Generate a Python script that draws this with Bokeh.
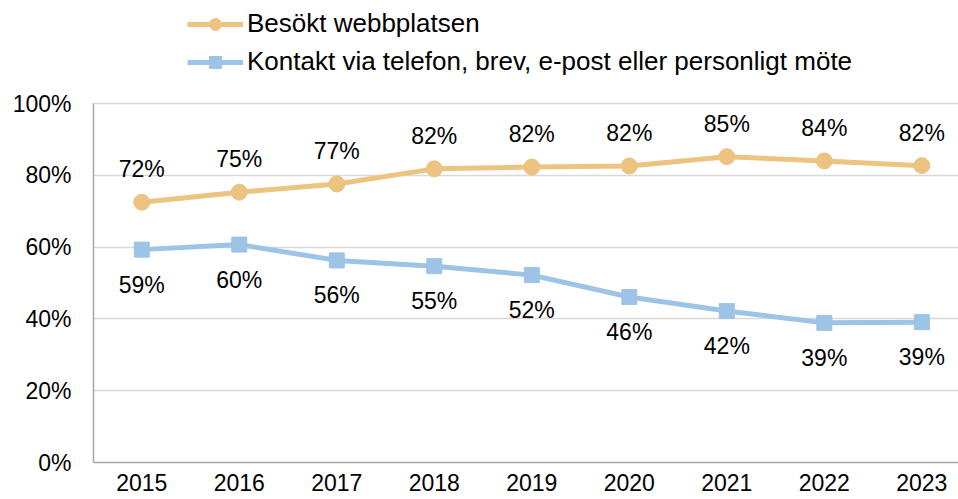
from bokeh.plotting import figure
from bokeh.models import ColumnDataSource, Legend, LegendItem, FixedTicker, PrintfTickFormatter, Range1d
from bokeh.core.properties import value
from bokeh.embed import file_html
from bokeh.resources import INLINE

years = [2015, 2016, 2017, 2018, 2019, 2020, 2021, 2022, 2023]
webb = [72.5, 75.3, 77.6, 81.8, 82.3, 82.6, 85.2, 84.0, 82.7]
webb_labels = ["72%", "75%", "77%", "82%", "82%", "82%", "85%", "84%", "82%"]
kontakt = [59.3, 60.7, 56.3, 54.7, 52.2, 46.1, 42.2, 38.9, 39.1]
kontakt_labels = ["59%", "60%", "56%", "55%", "52%", "46%", "42%", "39%", "39%"]
y_ticks = [0, 20, 40, 60, 80, 100]
series_names = ["Besökt webbplatsen", "Kontakt via telefon, brev, e-post eller personligt möte"]

ORANGE = "#EDC381"
BLUE = "#9DC3E6"
FONT = "Liberation Sans"

p = figure(width=958, height=499, output_backend="svg", toolbar_location=None,
           x_range=Range1d(2014.505, 2023.376), y_range=Range1d(0, 128.7),
           min_border_left=93, min_border_right=0, min_border_top=0, min_border_bottom=37)
p.outline_line_color = None
p.background_fill_color = "white"
p.border_fill_color = "white"

s1 = ColumnDataSource(dict(x=years, y=webb, lab=webb_labels))
s2 = ColumnDataSource(dict(x=years, y=kontakt, lab=kontakt_labels))

l1 = p.line("x", "y", source=s1, line_color=ORANGE, line_width=5)
m1 = p.scatter("x", "y", source=s1, marker="circle", size=16, fill_color=ORANGE, line_color=ORANGE)
l2 = p.line("x", "y", source=s2, line_color=BLUE, line_width=5)
m2 = p.scatter("x", "y", source=s2, marker="square", size=15, fill_color=BLUE, line_color=BLUE)

p.text("x", "y", text="lab", source=s1, y_offset=-33, text_align="center", text_baseline="middle",
       text_font=value(FONT), text_font_size="23px", text_color="black")
p.text("x", "y", text="lab", source=s2, y_offset=35, text_align="center", text_baseline="middle",
       text_font=value(FONT), text_font_size="23px", text_color="black")

p.xaxis.ticker = FixedTicker(ticks=years)
p.yaxis.ticker = FixedTicker(ticks=y_ticks)
p.yaxis.formatter = PrintfTickFormatter(format="%d%%")
p.yaxis.bounds = (0, 100)
for ax in (p.xaxis, p.yaxis):
    ax.major_tick_line_color = None
    ax.minor_tick_line_color = None
    ax.major_tick_out = 0
    ax.axis_line_color = "#A6A6A6"
    ax.axis_line_width = 1.5
    ax.major_label_text_font = FONT
    ax.major_label_text_font_size = "23px"
    ax.major_label_text_color = "black"
p.yaxis.major_label_standoff = 22
p.xaxis.major_label_standoff = 11
p.xgrid.grid_line_color = None
p.ygrid.grid_line_color = "#D9D9D9"
p.ygrid.grid_line_width = 1.5

legend = Legend(items=[LegendItem(label=series_names[0], renderers=[l1, m1]),
                       LegendItem(label=series_names[1], renderers=[l2, m2])],
                location=(94, 385), orientation="vertical", padding=0, margin=0, spacing=7,
                glyph_width=56, glyph_height=30, label_height=30, label_standoff=4,
                label_text_font=FONT, label_text_font_size="26px", label_text_color="black",
                border_line_color=None, background_fill_alpha=0)
p.add_layout(legend)

open("out.html", "w").write(file_html(p, INLINE))
